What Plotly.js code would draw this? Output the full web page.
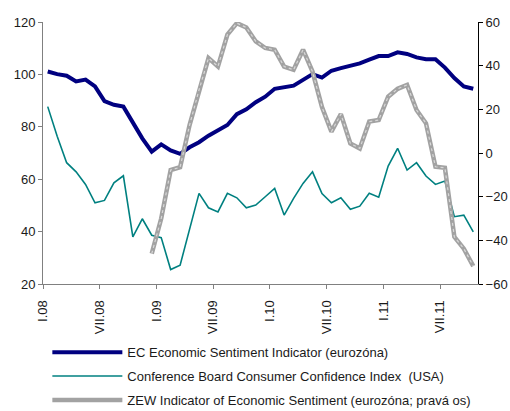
<!DOCTYPE html>
<html>
<head>
<meta charset="utf-8">
<script src="https://cdn.plot.ly/plotly-3.0.1.min.js"></script>
<style>
html,body{margin:0;padding:0;background:#fff;}
#chart{width:510px;height:411px;}
</style>
</head>
<body>
<div id="chart"></div>
<script>
// Months: Jan 2008 .. Oct 2011 (46 months)
const months = [
 "I.08","II.08","III.08","IV.08","V.08","VI.08","VII.08","VIII.08","IX.08","X.08","XI.08","XII.08",
 "I.09","II.09","III.09","IV.09","V.09","VI.09","VII.09","VIII.09","IX.09","X.09","XI.09","XII.09",
 "I.10","II.10","III.10","IV.10","V.10","VI.10","VII.10","VIII.10","IX.10","X.10","XI.10","XII.10",
 "I.11","II.11","III.11","IV.11","V.11","VI.11","VII.11","VIII.11","IX.11","X.11"
];
const ecESI = [101.1,100.1,99.5,97.3,98.0,95.4,89.8,88.4,87.7,81.4,75.6,70.5,
 73.3,71.0,69.7,72.2,74.1,76.6,78.8,80.7,84.8,86.7,89.4,91.5,
 94.5,95.0,95.7,97.9,100.1,98.8,101.4,102.4,103.4,104.2,105.6,107.0,
 107.0,108.4,107.8,106.5,105.8,105.8,102.6,98.6,95.4,94.5];
const cbCCI = [87.7,76.4,66.3,62.8,58.0,51.0,51.9,58.6,61.3,38.0,44.9,38.6,
 37.7,25.5,27.2,40.9,54.6,49.1,47.5,54.6,52.9,49.1,50.1,53.3,
 56.5,46.3,52.7,58.4,62.8,54.5,51.0,52.9,48.5,49.7,54.6,53.1,
 65.0,71.8,63.5,66.3,61.2,58.0,59.3,45.7,46.3,39.9];
const zew = [null,null,null,null,null,null,null,null,null,null,null,-46.1,
 -30.0,-7.8,-6.5,12.8,28.9,43.5,39.6,54.2,59.5,57.5,51.1,48.1,
 47.3,39.6,38.1,47.3,37.3,21.0,9.8,17.8,4.4,2.1,14.4,15.1,
 25.8,29.4,31.2,19.7,13.6,-6.3,-6.8,-38.4,-43.8,-51.8];
const tickLabels = ["I.08","VII.08","I.09","VII.09","I.10","VII.10","I.11","VII.11"];
const leftTicks = [20,40,60,80,100,120];
const rightTicks = [-60,-40,-20,0,20,40,60];

const names = [
 "EC Economic Sentiment Indicator (eurozóna)",
 "Conference Board Consumer Confidence Index  (USA)",
 "ZEW Indicator of Economic Sentiment (eurozóna; pravá os)"
];

// category centres at i+0.5, ticks at category boundaries every 6 months
const xs = months.map((m,i)=>i+0.5);
const tickVals = tickLabels.map(t=>months.indexOf(t));

const traces = [
 {x:xs, y:ecESI, name:names[0], legendgroup:'a', type:'scatter', mode:'lines',
  line:{color:'#000080', width:4}, yaxis:'y'},
 {x:xs, y:cbCCI, name:names[1], legendgroup:'b', type:'scatter', mode:'lines',
  line:{color:'#008080', width:1.6}, yaxis:'y'},
 {x:xs, y:zew, name:names[2], legendgroup:'c', type:'scatter', mode:'lines',
  line:{color:'#a2a2a2', width:4.5}, yaxis:'y2', connectgaps:false},
 {x:xs, y:zew, name:names[2], legendgroup:'c', type:'scatter', mode:'lines', showlegend:false, hoverinfo:'skip',
  line:{color:'#d8d8d8', width:1.2, dash:'dot'}, yaxis:'y2'}
];

const font = {family:'"Liberation Sans", Arial, sans-serif', size:13, color:'#1a1a1a'};

const layout = {
 width:510, height:411,
 margin:{l:43, r:32, t:22, b:127, autoexpand:false},
 paper_bgcolor:'#fff', plot_bgcolor:'#fff',
 font:font,
 showlegend:true,
 xaxis:{range:[0,months.length], tickvals:tickVals, ticktext:tickLabels,
   tickangle:-90, ticks:'outside', ticklen:4, tickcolor:'#808080', ticklabelstandoff:6,
   showline:true, linecolor:'#808080', linewidth:1, showgrid:false, zeroline:false,
   tickfont:{family:font.family, size:13, color:'#1a1a1a'}, fixedrange:true},
 yaxis:{range:[20,120], tickvals:leftTicks, ticks:'outside', ticklen:4, tickcolor:'#808080',
   showline:true, linecolor:'#808080', linewidth:1, showgrid:false, zeroline:false,
   tickfont:{family:font.family, size:13, color:'#1a1a1a'}, fixedrange:true},
 yaxis2:{range:[-60,60], tickvals:rightTicks, overlaying:'y', side:'right', anchor:'x',
   ticks:'outside', ticklen:4, tickcolor:'#000',
   showline:true, linecolor:'#000', linewidth:1, showgrid:false, zeroline:false,
   tickfont:{family:font.family, size:13, color:'#1a1a1a'}, fixedrange:true},
 legend:{x:0.01, y:-0.203, xanchor:'left', yanchor:'top', orientation:'v',
   itemwidth:70, tracegroupgap:4, font:{family:font.family, size:13, color:'#1a1a1a'},
   bgcolor:'rgba(0,0,0,0)'}
};

Plotly.newPlot('chart', traces, layout, {displayModeBar:false, staticPlot:true});
</script>
</body>
</html>
